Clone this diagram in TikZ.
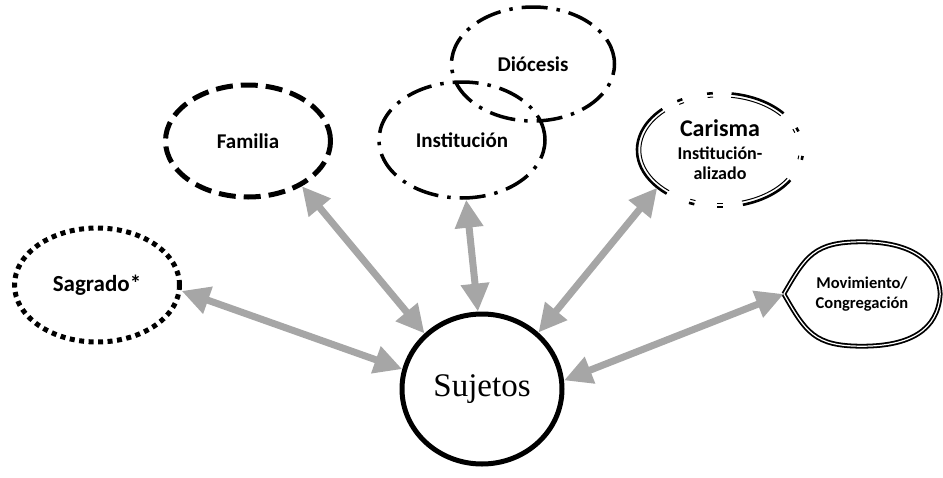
\documentclass[tikz,border=0pt]{standalone}
\usepackage{fontspec}
\setmainfont{Liberation Serif}
\newfontfamily\calfont{Carlito}
\usetikzlibrary{arrows.meta,shapes.geometric}

\begin{document}
\begin{tikzpicture}[x=1pt, y=-1pt,
		oval/.style={ellipse, inner sep=0pt, align=center, font=\calfont\bfseries\fontsize{21}{24}\selectfont},
		dotborder/.style={draw, line width=5pt, dash pattern=on 5pt off 4.5pt},
		dashborder/.style={draw, line width=5pt, dash pattern=on 17pt off 8pt},
		dashdotborder/.style={draw, line width=3.5pt, dash pattern=on 26pt off 9pt on 3.5pt off 9pt},
		carouter/.style={draw, line width=2.6pt},
		carinner/.style={draw, line width=1pt},
		movborder/.style={draw, line width=1.8pt, double, double distance=1.2pt},
		link/.style={draw=black!35, line width=7pt, {Triangle[length=28pt,width=27pt]}-{Triangle[length=28pt,width=27pt]}}]
			%%%%% START %%%%%
			
			\useasboundingbox (0, 0) rectangle (943, 477);
			
			\node[draw, ellipse, line width=5pt, minimum width=160, minimum height=150, font=\fontsize{33}{36}\selectfont] (suj) at (482, 389) {Sujetos};
			
			\node[oval, dotborder, minimum width=165, minimum height=114, font=\calfont\bfseries\fontsize{23}{26}\selectfont] (sag) at (97, 285) {Sagrado*};
			\node[oval, dashborder, minimum width=165, minimum height=112] (fam) at (248, 141) {Familia};
			
			\node[oval, dashdotborder, minimum width=163, minimum height=114] (dio) at (533, 64) {Diócesis};
			\node[oval, dashdotborder, minimum width=166, minimum height=116] (ins) at (462, 140) {Institución};
			
			\node[oval, minimum width=166, minimum height=114, font=\calfont\bfseries\fontsize{18}{20}\selectfont] (car) at (720, 150) {{\fontsize{24}{26}\selectfont Carisma}\\[3pt]Institución-\\alizado};
			% border of Carisma: long arcs and pairs of dots, thick outside and thin inside (y points down, so angles are negated)
			\foreach \a/\b in {-40/-82, 32/74, -134/-230, 6/10, -23/-19, -99/-95, -121/-117, 88/92, 108/112}
			{
				\draw[carouter] (car.center) ++(\a:83 and 57) arc (\a:\b:83 and 57);
				\draw[carinner] (car.center) ++(\a:79.2 and 53.2) arc (\a:\b:79.2 and 53.2);
			}
			
			\node[oval, minimum width=156, minimum height=104, font=\calfont\bfseries\fontsize{16.5}{20}\selectfont] (mov) at (862, 294) {Movimiento/\\Congregación};
			\draw[movborder] (mov.west) .. controls +(22, -38) and +(-48, 0) .. (mov.north) .. controls +(48, 0) and +(-2, -34) .. (mov.east) .. controls +(-2, 36) and +(48, 0) .. (mov.south) .. controls +(-48, 0) and +(22, 38) .. (mov.west);
			
			\draw[link] (sag.-4) -- (suj.166);
			\draw[link] (fam.-40) -- (suj.136);
			\draw[link] (ins.-86) -- (suj.93);
			\draw[link] (car.211) -- (suj.45);
			\draw[link] (mov.west) -- (suj.6);
			
			%%%%% END %%%%%
		\end{tikzpicture}
\end{document}
